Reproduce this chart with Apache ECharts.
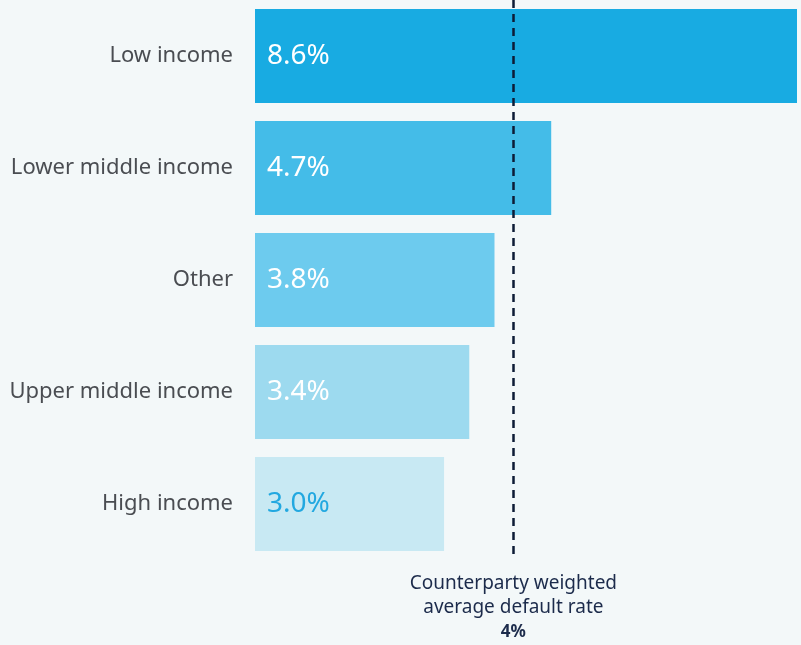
<!DOCTYPE html>
<html>
<head>
<meta charset="utf-8">
<script src="https://cdn.jsdelivr.net/npm/echarts@6/dist/echarts.min.js"></script>
<style>
html,body{margin:0;padding:0;background:#f3f8f9;}
#c{width:801px;height:645px;}
</style>
</head>
<body>
<div id="c"></div>
<script>
const categories = ['Low income', 'Lower middle income', 'Other', 'Upper middle income', 'High income'];
const values = [8.6, 4.7, 3.8, 3.4, 3.0];
const barColors = ['#18abe2', '#44bce8', '#6dcbee', '#9ddaef', '#c8e9f3'];
const labelColors = ['#ffffff', '#ffffff', '#ffffff', '#ffffff', '#22a8e0'];
const avgLinePosition = 4.1;
const avgLabel = '4%';
const avgTitle = ['Counterparty weighted', 'average default rate'];

const chart = echarts.init(document.getElementById('c'));
chart.setOption({
  backgroundColor: '#f3f8f9',
  animation: false,
  grid: { left: 255, right: 4, top: 0, height: 560 },
  xAxis: {
    type: 'value', min: 0, max: 8.6,
    show: false
  },
  yAxis: {
    type: 'category', data: categories, inverse: true,
    axisLine: { show: false }, axisTick: { show: false },
    axisLabel: { color: '#4a4d52', fontSize: 22, fontFamily: 'Noto Sans', margin: 22 }
  },
  series: [{
    type: 'bar',
    barCategoryGap: '16%',
    data: values.map((v, i) => ({
      value: v,
      itemStyle: { color: barColors[i] },
      label: { color: labelColors[i], fontSize: 28, fontFamily: 'Noto Sans' }
    })),
    label: {
      show: true, position: 'insideLeft', distance: 12,
      fontSize: 28, fontFamily: 'Noto Sans',
      formatter: p => p.value.toFixed(1) + '%'
    },
    markLine: {
      symbol: 'none', silent: true,
      lineStyle: { color: '#0d1b36', type: [8, 6], width: 2.5 },
      label: {
        show: true, position: 'end', distance: 12,
        formatter: '{t|' + avgTitle[0] + '}\n{t|' + avgTitle[1] + '}\n{b|' + avgLabel + '}',
        rich: {
          t: { fontSize: 19, color: '#1c2b4b', fontFamily: 'Noto Sans', lineHeight: 24, align: 'center' },
          b: { fontSize: 17, color: '#1c2b4b', fontFamily: 'Noto Sans', fontWeight: 'bold', lineHeight: 24, align: 'center' }
        }
      },
      data: [{ xAxis: avgLinePosition }]
    }
  }]
});
</script>
</body>
</html>
